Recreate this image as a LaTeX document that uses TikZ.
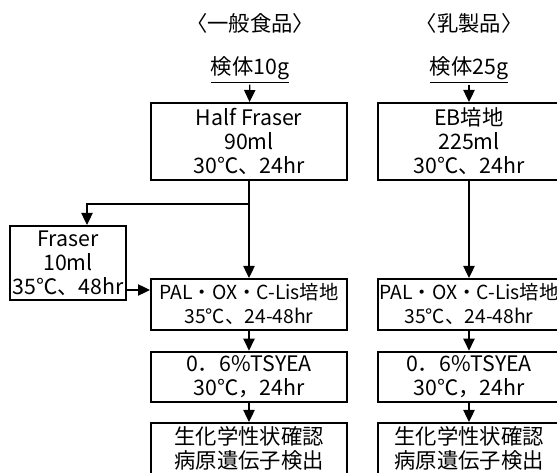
\documentclass[tikz,border=0pt]{standalone}
\usepackage{fontspec}
\setmainfont{Noto Sans CJK JP}
\usepackage{tikz}
\usetikzlibrary{arrows.meta,positioning,calc}

\begin{document}
\begin{tikzpicture}[
  x=0.75pt,y=-0.75pt,
  font=\fontsize{16pt}{18pt}\selectfont,
  title/.style={inner sep=0pt},
  sample/.style={inner sep=1pt},
  box/.style={draw,line width=1.5pt,align=center,inner sep=0pt,minimum width=147pt},
  rbox/.style={box,minimum width=136.5pt},
  tall/.style={minimum height=57.75pt},
  low/.style={minimum height=38pt},
  narrow/.style={font=\fontsize{14.5pt}{18pt}\selectfont},
  arr/.style={-{Triangle[length=9pt,width=8.5pt]},line width=0.9pt}
]
\useasboundingbox (0,0) rectangle (557,473);
\node[title] (gen) at (250,23) {〈一般食品〉};
\node[title] (dairy) at (469,23) {〈乳製品〉};
\node[sample] (s10) at (250,70) {\underline{検体10g}};
\node[sample] (s25) at (469,70) {\underline{検体25g}};
\node[box,tall] (hf) at (249,141.5) {Half Fraser\\90ml\\30℃、24hr};
\node[rbox,tall] (eb) at (469,141.5) {EB培地\\225ml\\30℃、24hr};
\node[box,low,narrow,below=72.75pt of hf] (pal1) {PAL・OX・C-Lis培地\\35℃、24-48hr};
\node[rbox,low,narrow,below=72.75pt of eb] (pal2) {PAL・OX・C-Lis培地\\35℃、24-48hr};
\node[box,low,below=15pt of pal1] (ts1) {0．6\%TSYEA\\30℃，24hr};
\node[rbox,low,below=15pt of pal2] (ts2) {0．6\%TSYEA\\30℃，24hr};
\node[box,low,below=14pt of ts1] (bio1) {生化学性状確認\\病原遺伝子検出};
\node[rbox,low,below=14pt of ts2] (bio2) {生化学性状確認\\病原遺伝子検出};
\node[box,minimum width=87pt,minimum height=55.5pt] (fr) at (68,263) {Fraser\\10ml\\35℃、48hr};
\coordinate (split) at ($(hf.south)+(0,23)$);
\coordinate (frin) at ($(fr.north)+(19,0)$);
\coordinate (frout) at ($(fr.south east)+(0,-11)$);
\draw[arr] (s10) -- (hf);
\draw[arr] (s25) -- (eb);
\draw[arr] (hf) -- (pal1);
\draw[arr] (split) -| (frin);
\draw[arr] (frout) -- (frout -| pal1.west);
\draw[arr] (eb) -- (pal2);
\draw[arr] (pal1) -- (ts1);
\draw[arr] (pal2) -- (ts2);
\draw[arr] (ts1) -- (bio1);
\draw[arr] (ts2) -- (bio2);
\end{tikzpicture}
\end{document}
